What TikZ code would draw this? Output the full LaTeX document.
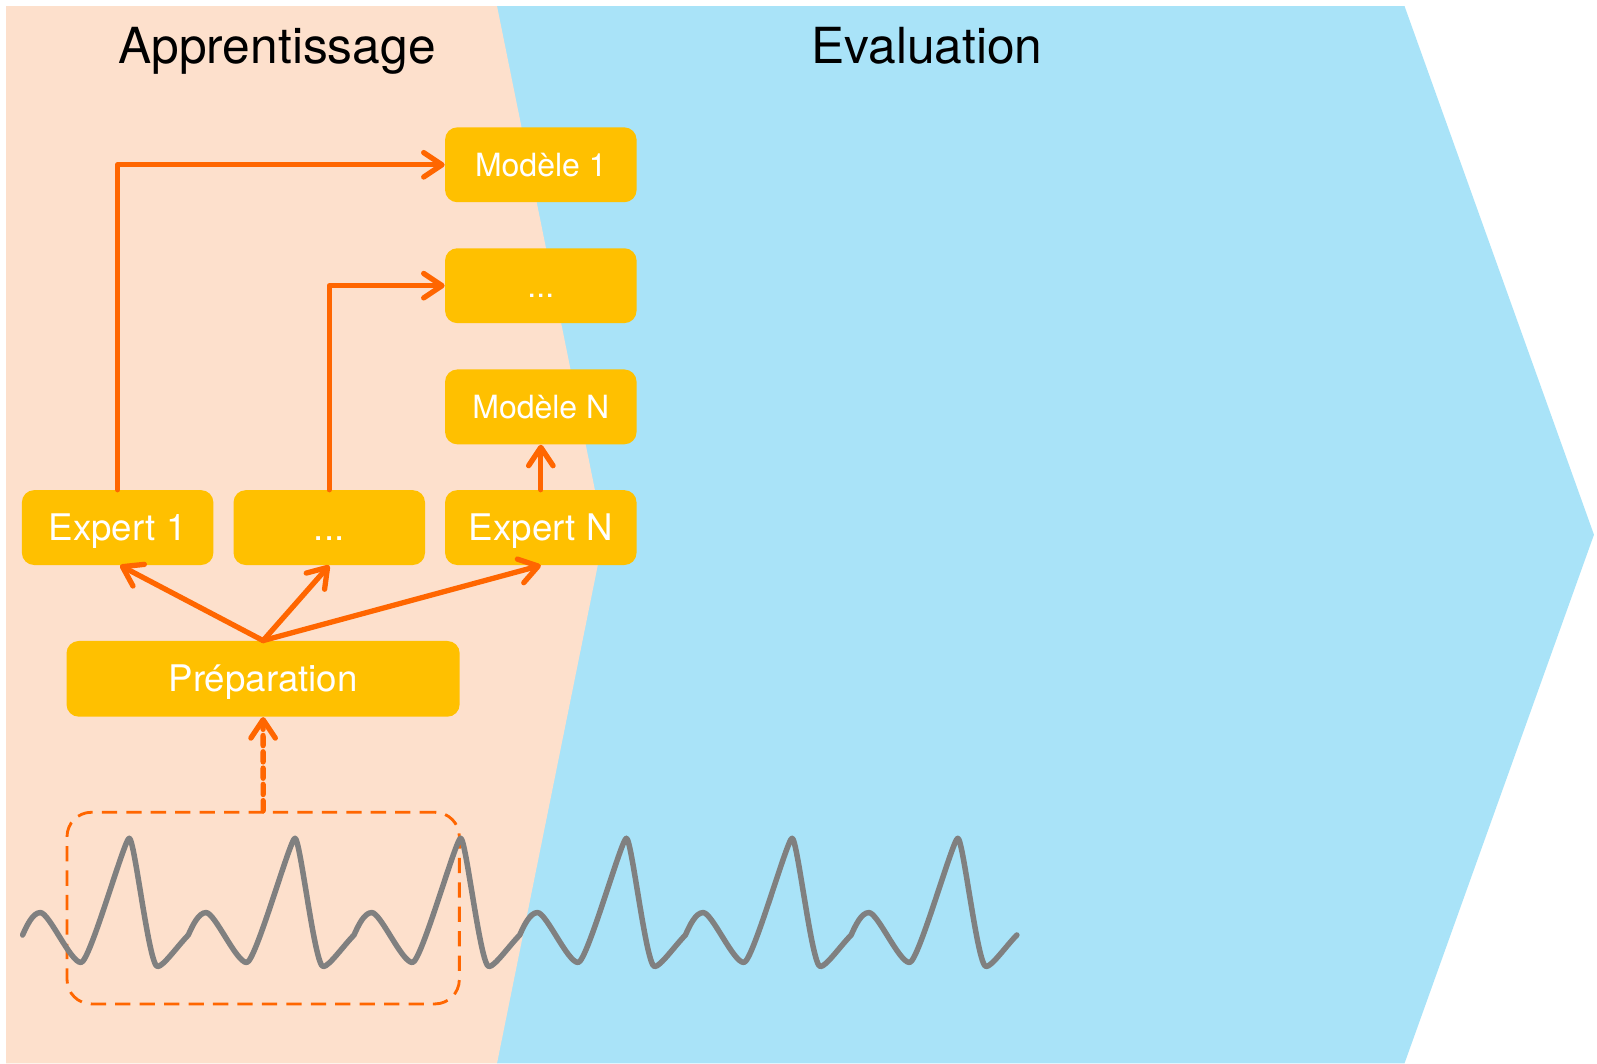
\documentclass[tikz,border=0pt]{standalone}
\usepackage{fontspec}
\setmainfont{TeX Gyre Heros}
\usetikzlibrary{arrows.meta}

\definecolor{peach}{HTML}{FDE0CC}
\definecolor{sky}{HTML}{A9E3F8}
\definecolor{amber}{HTML}{FFC000}
\definecolor{flame}{HTML}{FF6600}
\definecolor{wavegray}{HTML}{808080}

\begin{document}
\begin{tikzpicture}[x=0.5pt,y=-0.5pt,
  box/.style={fill=amber, rounded corners=6pt, minimum width=94pt,
    minimum height=36.75pt, inner sep=0pt, text=white,
    text height=12.9pt, text depth=0pt,
    font=\fontsize{18}{20}\selectfont},
  modelbox/.style={box, text height=11.3pt, font=\fontsize{15.7}{18}\selectfont},
  title/.style={anchor=base, font=\fontsize{24.4}{28}\selectfont},
  link/.style={draw=flame, line width=2.6pt, line cap=round, line join=round,
    -{Straight Barb[length=9pt,width=12pt,line cap=round,line join=round]}},
  window/.style={draw=flame, line width=1.4pt, dash pattern=on 7.5pt off 4.5pt,
    rounded corners=12pt, minimum width=192.6pt, minimum height=94.1pt, inner sep=0pt},
  wave/.style={draw=wavegray, line width=2.7pt, line cap=round, line join=round}
]
% page
\path[use as bounding box, fill=white] (0,0) rectangle (1568,1044);

% phase chevrons
\fill[sky] (488,6) -- (1379,6) -- (1565,525) -- (1379,1044) -- (488,1044) -- cycle;
\fill[peach] (6,6) -- (488,6) -- (593,525) -- (488,1044) -- (6,1044) -- cycle;

% phase titles
\node[title] (tlearn) at (272,62) {Apprentissage};
\node[title] (teval) at (910,62) {Evaluation};

% models
\node[modelbox] (m1) at (531,161.8) {Modèle 1};
\node[modelbox] (m2) at (531,280.5) {...};
\node[modelbox] (mN) at (531,399.5) {Modèle N};

% experts
\node[box] (e1) at (115.5,518) {Expert 1};
\node[box] (e2) at (323.3,518) {...};
\node[box] (eN) at (531,518) {Expert N};

% preparation
\node[box, minimum width=193pt, minimum height=37.15pt] (prep) at (258.3,666.5) {Préparation};

% time window on the signal
\node[window] (win) at (258.4,891.6) {};

% signal
\draw[wave] (22.2,918)
  \foreach \k in {0,...,5}{
    .. controls ({22.2+\k*162.7+4},909) and ({22.2+\k*162.7+10},896) .. ({22.2+\k*162.7+17.4},896)
    .. controls ({22.2+\k*162.7+26},896) and ({22.2+\k*162.7+47},945) .. ({22.2+\k*162.7+57.3},945)
    .. controls ({22.2+\k*162.7+66},945) and ({22.2+\k*162.7+100},823) .. ({22.2+\k*162.7+104.7},823)
    .. controls ({22.2+\k*162.7+110},823) and ({22.2+\k*162.7+124},949) .. ({22.2+\k*162.7+132.5},949)
    .. controls ({22.2+\k*162.7+138},949) and ({22.2+\k*162.7+152},929) .. ({22.2+\k*162.7+162.7},918)
  };

% connectors
\draw[link, dash pattern=on 5pt off 3pt] (win.north) -- (prep.south);
\draw[link] (prep.north) -- ([xshift=1.2pt]e1.south);
\draw[link] (prep.north) -- (e2.south);
\draw[link] (prep.north) -- (eN.south);
\draw[link] (e1.north) |- (m1.west);
\draw[link] (e2.north) |- (m2.west);
\draw[link] (eN.north) -- (mN.south);
\end{tikzpicture}
\end{document}
